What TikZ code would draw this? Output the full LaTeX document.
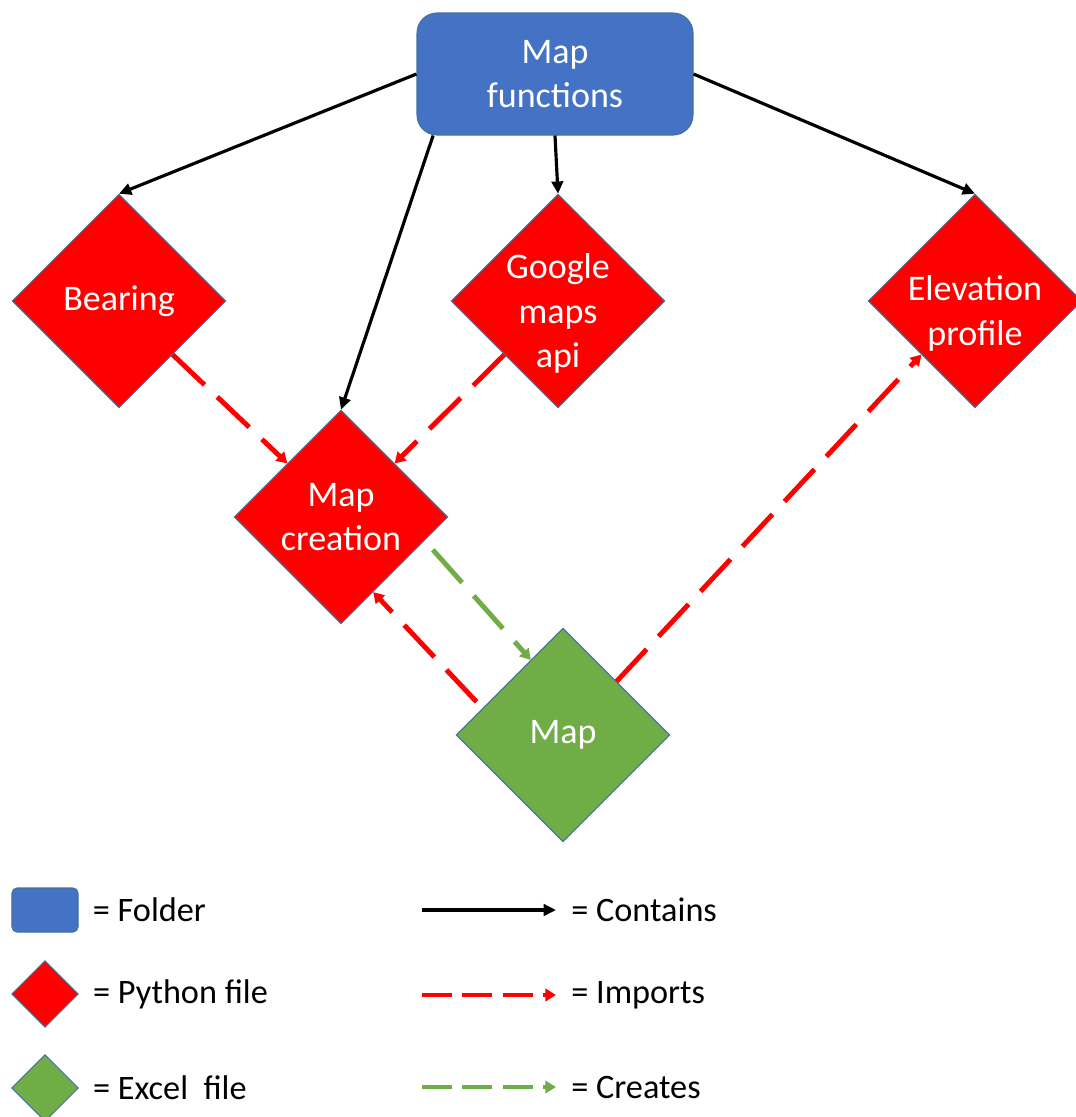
\documentclass[tikz,border=0pt]{standalone}
\usepackage{fontspec}
\setmainfont{Carlito}
\usepackage{tikz}
\usetikzlibrary{arrows.meta,positioning,shapes.geometric,calc}
\def\filesize{4.27cm}
\def\keysize{1.33cm}
\definecolor{folderblue}{HTML}{4472C4}
\definecolor{pyred}{HTML}{FF0000}
\definecolor{xlgreen}{HTML}{70AD47}
\definecolor{edgeblue}{HTML}{41719C}

\begin{document}
\begin{tikzpicture}[contains/.style={draw=black,line width=1.8pt,-{Triangle[length=7pt,width=6.5pt]}},
    imports/.style={draw=pyred,line width=2.8pt,dash pattern=on 25pt off 10pt,-{Triangle[length=6pt,width=7pt]}},
    creates/.style={imports,draw=xlgreen},
    imports key/.style={imports,dash pattern=on 17pt off 6pt},
    creates key/.style={creates,dash pattern=on 17pt off 6pt}]
    \tikzstyle{lbl}=[text=white,align=center,font=\fontsize{20.5}{25.5}\selectfont]
    \tikzstyle{folder}=[rectangle,rounded corners=0.4cm,draw=edgeblue,line width=0.6pt,fill=folderblue,minimum width=5.52cm,minimum height=2.44cm,lbl]
    \tikzstyle{filenode}=[diamond,draw=edgeblue,line width=0.6pt,minimum size=\filesize,inner sep=0pt]
    \tikzstyle{python file}=[filenode,fill=pyred]
    \tikzstyle{excel file}=[filenode,fill=xlgreen]
    \tikzstyle{keytext}=[anchor=west,inner sep=0pt,font=\fontsize{19.5}{24}\selectfont]

    \useasboundingbox (0,0) rectangle (21.5,-22.34);

    % Draw the nodes
    \node[folder] (mapfun) at (11.1,-1.48) {Map\\functions};
    \node[python file, label={[lbl]center:Bearing}] (bearing) at (2.38,-6.02) {};
    \node[python file, label={[lbl,yshift=-0.25cm]center:{Google\\maps\\api}}] (google) at (11.16,-6.02) {};
    \node[python file, label={[lbl,yshift=-0.25cm]center:{Elevation\\profile}}] (elev) at (19.5,-6.02) {};
    \node[python file, label={[lbl]center:{Map\\creation}}] (mapcr) at (6.82,-10.34) {};
    \node[excel file, label={[lbl]center:Map}] (mapx) at (11.26,-14.7) {};

    % Connect every node
    \draw[contains] (mapfun.west) -- (bearing.north);
    \draw[contains] ($(mapfun.south west)!0.06!(mapfun.south east)$) -- (mapcr.north);
    \draw[contains] (mapfun.south) -- (google.north);
    \draw[contains] (mapfun.east) -- (elev.north);

    \draw[imports] (bearing.south east) -- (mapcr.north west);
    \draw[imports] (google.south west) -- (mapcr.north east);
    \draw[imports] (mapx.north east) -- (elev.south west);
    \draw[imports,shorten <=5pt] ($(mapx.west)!0.25!(mapx.north)$) -- ($(mapcr.south)!0.3!(mapcr.east)$);
    \draw[creates,shorten <=7pt] ($(mapcr.east)!0.22!(mapcr.south)$) -- ($(mapx.north)!0.3!(mapx.west)$);

    % Legend
    \node[folder, minimum width=1.32cm, minimum height=0.88cm, rounded corners=0.1cm] (key-folder) at (0.9,-18.2) {};
    \node[python file, minimum size=\keysize] (key-py) at (0.9,-19.88) {};
    \node[excel file, minimum size=\keysize] (key-xl) at (0.9,-21.76) {};
    \node[keytext, right=0.28cm of key-folder] (kt-folder) {= Folder};
    \node[keytext, right=0.28cm of key-py] (kt-py) {= Python file};
    \node[keytext, right=0.28cm of key-xl] (kt-xl) {= Excel\ \ file};

    \foreach \sty/\name/\y [count=\i] in {contains/Contains/-18.2, imports key/Imports/-19.9, creates key/Creates/-21.74} {
        \coordinate (la-\i) at (8.44,\y);
        \coordinate (lb-\i) at (11.12,\y);
        \draw[\sty] (la-\i) -- (lb-\i);
        \node[keytext, right=0.3cm of lb-\i] (kt-\i) {= \name};
    }
\end{tikzpicture}
\end{document}
